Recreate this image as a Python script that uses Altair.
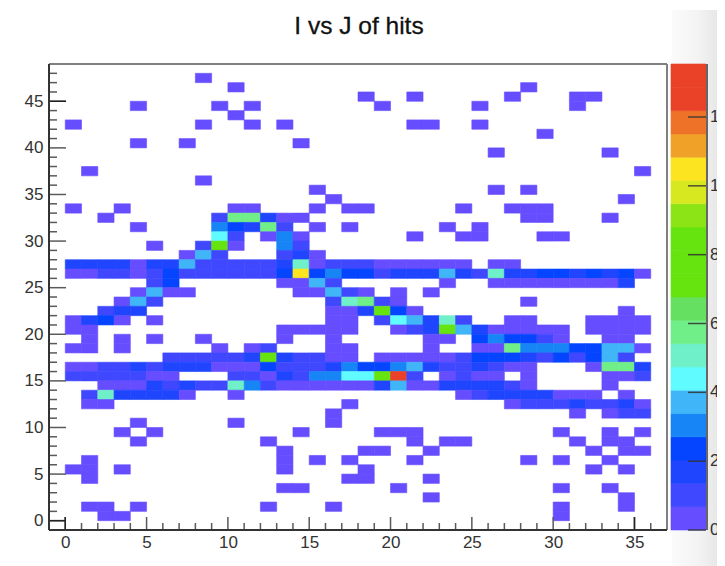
import altair as alt
import pandas as pd

TITLE = "I vs J of hits"
row_47 = {8: 2}
row_46 = {10: 2, 28: 2}
row_45 = {18: 2, 21: 2, 27: 2, 31: 2, 32: 2}
row_44 = {4: 2, 9: 2, 11: 2, 19: 2, 25: 2, 31: 2}
row_43 = {10: 2}
row_42 = {0: 2, 8: 2, 11: 2, 13: 2, 21: 2, 22: 2, 25: 2}
row_41 = {29: 2}
row_40 = {4: 2, 7: 2, 14: 2}
row_39 = {26: 2, 33: 2}
row_37 = {1: 2, 35: 2}
row_36 = {8: 2}
row_35 = {15: 2, 26: 2, 28: 2}
row_34 = {16: 2, 34: 2}
row_33 = {0: 2, 3: 2, 10: 2, 11: 2, 15: 2, 17: 2, 18: 2, 24: 2, 27: 2, 28: 2, 29: 2}
row_32 = {2: 2, 9: 8, 10: 58, 11: 58, 12: 20, 13: 2, 14: 2, 28: 2, 29: 2, 33: 2}
row_31 = {4: 2, 9: 30, 10: 22, 11: 14, 12: 60, 13: 8, 15: 2, 17: 2, 23: 2, 25: 2}
row_30 = {9: 44, 10: 8, 12: 2, 13: 30, 14: 2, 21: 2, 24: 2, 25: 2, 29: 2, 30: 2}
row_29 = {5: 2, 8: 8, 9: 72, 10: 2, 13: 30, 14: 8}
row_28 = {7: 2, 8: 38, 9: 10, 13: 10, 14: 14, 15: 2}
row_27 = {0: 14, 1: 16, 2: 16, 3: 16, 4: 2, 5: 16, 6: 16, 7: 38, 8: 10, 9: 10, 10: 10, 11: 10, 12: 10,
          13: 16, 14: 50, 15: 2, 16: 10, 17: 10, 18: 10, 19: 2, 20: 2, 21: 2, 22: 2, 23: 2, 24: 2, 26: 2, 27: 2}
row_26 = {0: 2, 1: 2, 2: 8, 3: 8, 4: 2, 5: 8, 6: 22, 7: 10, 8: 10, 9: 10, 10: 10, 11: 10, 12: 10, 13: 22,
          14: 105, 15: 24, 16: 30, 17: 22, 18: 22, 19: 10, 20: 16, 21: 16, 22: 16, 23: 38, 24: 16, 25: 10,
          26: 50, 27: 20, 28: 16, 29: 22, 30: 22, 31: 16, 32: 22, 33: 16, 34: 22, 35: 2}
row_25 = {5: 8, 6: 22, 13: 2, 14: 2, 15: 38, 16: 10, 23: 2, 26: 2, 27: 2, 28: 2, 29: 2, 30: 2, 31: 2, 32: 2, 33: 2, 34: 14}
row_24 = {4: 2, 5: 38, 6: 2, 7: 2, 14: 2, 15: 2, 16: 38, 17: 10, 18: 2, 20: 2, 22: 2}
row_23 = {3: 2, 4: 38, 5: 10, 16: 8, 17: 50, 18: 60, 19: 8, 20: 2, 28: 2}
row_22 = {2: 10, 3: 16, 4: 16, 16: 2, 17: 2, 18: 16, 19: 74, 20: 22, 21: 2, 34: 2}
row_21 = {0: 2, 1: 16, 2: 22, 3: 2, 5: 2, 16: 2, 17: 2, 19: 8, 20: 44, 21: 38, 22: 16, 23: 50, 24: 12,
          27: 2, 28: 2, 32: 2, 33: 2, 34: 2, 35: 2}
row_20 = {0: 2, 1: 2, 13: 2, 14: 2, 15: 2, 16: 2, 17: 2, 20: 2, 21: 8, 22: 16, 23: 74, 24: 38, 25: 16,
          26: 2, 27: 2, 28: 2, 29: 2, 30: 2, 32: 2, 33: 2, 34: 2, 35: 2}
row_19 = {1: 2, 3: 2, 5: 2, 8: 2, 13: 2, 16: 2, 22: 2, 23: 2, 25: 22, 26: 30, 27: 22, 28: 22, 29: 10, 30: 2, 33: 2, 34: 2}
row_18 = {0: 2, 1: 2, 3: 2, 9: 2, 11: 2, 12: 8, 16: 2, 17: 2, 22: 2, 25: 2, 26: 2, 27: 58, 28: 30, 29: 30,
          30: 30, 31: 22, 32: 22, 33: 38, 34: 38, 35: 2}
row_17 = {6: 8, 7: 8, 8: 12, 9: 8, 10: 8, 11: 14, 12: 76, 13: 14, 14: 10, 15: 10, 16: 2, 17: 2, 19: 2, 20: 2,
          21: 2, 22: 2, 23: 2, 24: 8, 25: 22, 26: 22, 27: 22, 28: 16, 29: 8, 30: 22, 31: 8, 32: 22, 33: 38, 34: 8}
row_16 = {0: 2, 1: 2, 2: 8, 3: 8, 4: 14, 5: 8, 6: 14, 7: 14, 8: 14, 9: 2, 10: 2, 11: 2, 12: 24, 13: 10, 14: 10,
          15: 10, 16: 14, 17: 30, 18: 24, 19: 24, 20: 30, 21: 38, 22: 14, 23: 8, 24: 8, 25: 14, 26: 8, 27: 2,
          28: 2, 32: 2, 33: 58, 34: 58, 35: 14}
row_15 = {0: 8, 1: 8, 2: 8, 3: 8, 4: 8, 5: 2, 6: 2, 10: 8, 11: 8, 12: 2, 13: 14, 14: 8, 15: 30, 16: 30, 17: 44,
          18: 44, 19: 74, 20: 130, 21: 8, 23: 2, 24: 8, 25: 2, 26: 2, 28: 2, 33: 2, 34: 2, 35: 8}
row_14 = {2: 2, 3: 2, 4: 2, 5: 14, 6: 8, 7: 14, 8: 8, 9: 8, 10: 50, 11: 30, 12: 8, 13: 2, 14: 2, 15: 2, 16: 2,
          17: 2, 18: 2, 19: 14, 20: 38, 21: 2, 22: 2, 23: 14, 24: 14, 25: 14, 26: 14, 27: 8, 28: 2, 33: 2}
row_13 = {1: 8, 2: 50, 3: 16, 4: 20, 5: 20, 6: 14, 7: 2, 10: 2, 24: 2, 25: 8, 26: 14, 27: 14, 28: 20, 29: 16,
          30: 2, 31: 2, 32: 2, 34: 2}
row_12 = {1: 2, 2: 2, 17: 2, 27: 2, 28: 8, 29: 8, 30: 8, 31: 14, 32: 8, 33: 8, 34: 14, 35: 2}
row_11 = {16: 2, 31: 2, 33: 2, 34: 8, 35: 8}
row_10 = {4: 2, 10: 2, 16: 2}
row_9 = {3: 2, 5: 2, 14: 2, 19: 2, 20: 2, 21: 2, 30: 2, 33: 2, 35: 2}
row_8 = {4: 2, 12: 2, 21: 2, 23: 2, 24: 2, 31: 2, 33: 2, 34: 2}
row_7 = {13: 2, 18: 2, 19: 2, 22: 2, 32: 2, 34: 2, 35: 2}
row_6 = {1: 2, 13: 2, 15: 2, 17: 2, 21: 2, 28: 2, 30: 2, 33: 2}
row_5 = {0: 2, 1: 2, 3: 2, 13: 2, 18: 2, 32: 2, 34: 2}
row_4 = {1: 2, 17: 2, 18: 2, 22: 2}
row_3 = {13: 2, 14: 2, 20: 2, 30: 2, 33: 2}
row_2 = {22: 2, 34: 2}
row_1 = {1: 2, 2: 2, 4: 2, 12: 2, 16: 2, 30: 2, 34: 2}
row_0 = {2: 2, 3: 2, 30: 2}

ROWS = {47: row_47, 46: row_46, 45: row_45, 44: row_44, 43: row_43, 42: row_42, 41: row_41, 40: row_40,
        39: row_39, 37: row_37, 36: row_36, 35: row_35, 34: row_34, 33: row_33, 32: row_32, 31: row_31,
        30: row_30, 29: row_29, 28: row_28, 27: row_27, 26: row_26, 25: row_25, 24: row_24, 23: row_23,
        22: row_22, 21: row_21, 20: row_20, 19: row_19, 18: row_18, 17: row_17, 16: row_16, 15: row_15,
        14: row_14, 13: row_13, 12: row_12, 11: row_11, 10: row_10, 9: row_9, 8: row_8, 7: row_7, 6: row_6,
        5: row_5, 4: row_4, 3: row_3, 2: row_2, 1: row_1, 0: row_0}

LEVELS = [0, 6.77, 13.54, 20.31, 27.08, 33.85, 40.62, 47.39, 54.16, 60.93, 67.7, 74.47, 81.24, 88.01,
          94.78, 101.55, 108.32, 115.09, 121.86, 128.63, 135.4]
PALETTE = ["#664DFF", "#3F48FF", "#1F45FF", "#0545FF", "#1785F5", "#40B5F8", "#60FBFF", "#70F0C8", "#70EE88",
           "#66E060", "#66E410", "#66E410", "#66E410", "#8CE416", "#D8E820", "#FCE420", "#F0A228", "#EE7228",
           "#EA4228", "#EA4228"]
CBAR_TICKS = [0, 20, 40, 60, 80, 100, 120]
X_MAJOR = [0, 5, 10, 15, 20, 25, 30, 35]
X_DARK = [0, 35]
X_MINOR = [1, 2, 3, 4, 6, 7, 8, 9, 11, 12, 13, 14, 16, 17, 18, 19, 21, 22, 23, 24, 26, 27, 28, 29, 31, 32, 33, 34, 36]
Y_MAJOR = [0, 5, 10, 15, 20, 25, 30, 35, 40, 45]
Y_DARK = [0, 45]
Y_MINOR = [1, 2, 3, 4, 6, 7, 8, 9, 11, 12, 13, 14, 16, 17, 18, 19, 21, 22, 23, 24, 26, 27, 28, 29, 31, 32, 33, 34,
           36, 37, 38, 39, 41, 42, 43, 44, 46, 47, 48]

W, H = 618, 466
FONT = "Liberation Sans"
cells = pd.DataFrame([
    {"i": c, "i2": c + 1, "j": r, "j2": r + 1, "hits": v}
    for r, row in ROWS.items() for c, v in row.items()
])
bands = pd.DataFrame({"lo": LEVELS[:-1], "hi": LEVELS[1:]})
bands["mid"] = (bands.lo + bands.hi) / 2

x_scale = alt.Scale(domain=[-1, 37], nice=False, zero=False)
y_scale = alt.Scale(domain=[-1, 49], nice=False, zero=False)
z_scale = alt.Scale(domain=[0, 135.4], nice=False, zero=False)
color_scale = alt.Scale(type="threshold", domain=LEVELS[1:-1], range=PALETTE)

panel = alt.Chart(pd.DataFrame({"a": [0]})).mark_rect(
    color=alt.LinearGradient(gradient="linear", x1=0, x2=1, y1=0, y2=0,
                             stops=[alt.GradientStop(offset=0, color="#FBFBFB"),
                                    alt.GradientStop(offset=0.5, color="#F3F3F3"),
                                    alt.GradientStop(offset=1, color="#E2E2E2")])
).encode(x=alt.value(623), x2=alt.value(676), y=alt.value(-54), y2=alt.value(502))

heat = alt.Chart(cells).mark_rect(strokeWidth=0.6).encode(
    x=alt.X("i:Q", scale=x_scale, axis=alt.Axis(values=X_MAJOR, title=None, tickSize=0, domain=False, grid=False,
                                                labelFontSize=17, labelFont=FONT, labelColor="#333333",
                                                labelPadding=4, format="d", labelFlush=False, labelOverlap=False)),
    x2="i2:Q",
    y=alt.Y("j:Q", scale=y_scale, axis=alt.Axis(values=Y_MAJOR, title=None, tickSize=0, domain=False, grid=False,
                                                labelFontSize=17, labelFont=FONT, labelColor="#333333",
                                                labelPadding=6, format="d", labelFlush=False, labelOverlap=False)),
    y2="j2:Q",
    color=alt.Color("hits:Q", scale=color_scale, legend=None),
    stroke=alt.Stroke("hits:Q", scale=color_scale, legend=None),
)


def xticks(vals, length, color):
    return alt.Chart(pd.DataFrame({"v": vals})).mark_rule(color=color, strokeWidth=1.5).encode(
        x=alt.X("v:Q", scale=x_scale, axis=None), y=alt.value(H), y2=alt.value(H - length))


def yticks(vals, length, color):
    return alt.Chart(pd.DataFrame({"v": vals})).mark_rule(color=color, strokeWidth=1.5).encode(
        y=alt.Y("v:Q", scale=y_scale, axis=None), x=alt.value(0), x2=alt.value(length))


def line(x1, x2, y1, y2, color, width):
    return alt.Chart(pd.DataFrame({"a": [0]})).mark_rule(color=color, strokeWidth=width).encode(
        x=alt.value(x1), x2=alt.value(x2), y=alt.value(y1), y2=alt.value(y2))


cbar = alt.Chart(bands).mark_rect(strokeWidth=0.6).encode(
    x=alt.value(622), x2=alt.value(657),
    y=alt.Y("lo:Q", scale=z_scale, axis=None), y2="hi:Q",
    color=alt.Color("mid:Q", scale=color_scale, legend=None),
    stroke=alt.Stroke("mid:Q", scale=color_scale, legend=None),
)
cticks_df = pd.DataFrame({"v": CBAR_TICKS})
cticks = alt.Chart(cticks_df).mark_rule(color="#333333", strokeWidth=1.5, opacity=0.85).encode(
    x=alt.value(639), x2=alt.value(657), y=alt.Y("v:Q", scale=z_scale, axis=None))
clabels = alt.Chart(cticks_df).mark_text(align="left", baseline="middle", font=FONT, fontSize=17, color="#333333").encode(
    x=alt.value(661), y=alt.Y("v:Q", scale=z_scale, axis=None), text=alt.Text("v:Q", format="d"))
title_mark = alt.Chart(pd.DataFrame({"t": [TITLE]})).mark_text(
    align="center", baseline="alphabetic", font=FONT, fontSize=24.5, color="#111111", stroke="#111111", strokeWidth=0.3
).encode(x=alt.value(310), y=alt.value(-30), text="t:N")

chart = alt.layer(
    panel, heat,
    xticks(X_MINOR, 7, "#5A5A5A"), xticks(X_MAJOR, 13, "#5A5A5A"), xticks(X_DARK, 13, "#222222"),
    yticks(Y_MINOR, 8, "#5A5A5A"), yticks(Y_MAJOR, 17, "#5A5A5A"), yticks(Y_DARK, 17, "#222222"),
    line(0, 618, 0, 0, "#808080", 2), line(618, 618, 0, 466, "#808080", 2),
    line(0, 0, 0, 466, "#333333", 2), line(0, 618, 466, 466, "#333333", 2),
    cbar, line(658, 658, 0, 466, "#666666", 2), cticks, clabels, title_mark,
).resolve_scale(y="independent", color="shared", stroke="shared").resolve_axis(x="independent", y="independent").properties(
    width=W, height=H,
    autosize=alt.AutoSizeParams(type="none"),
    padding={"left": 41, "top": 56, "right": 50, "bottom": 36},
).configure_view(stroke=None)

chart.save("out.html", embed_options={"renderer": "svg", "actions": False})
